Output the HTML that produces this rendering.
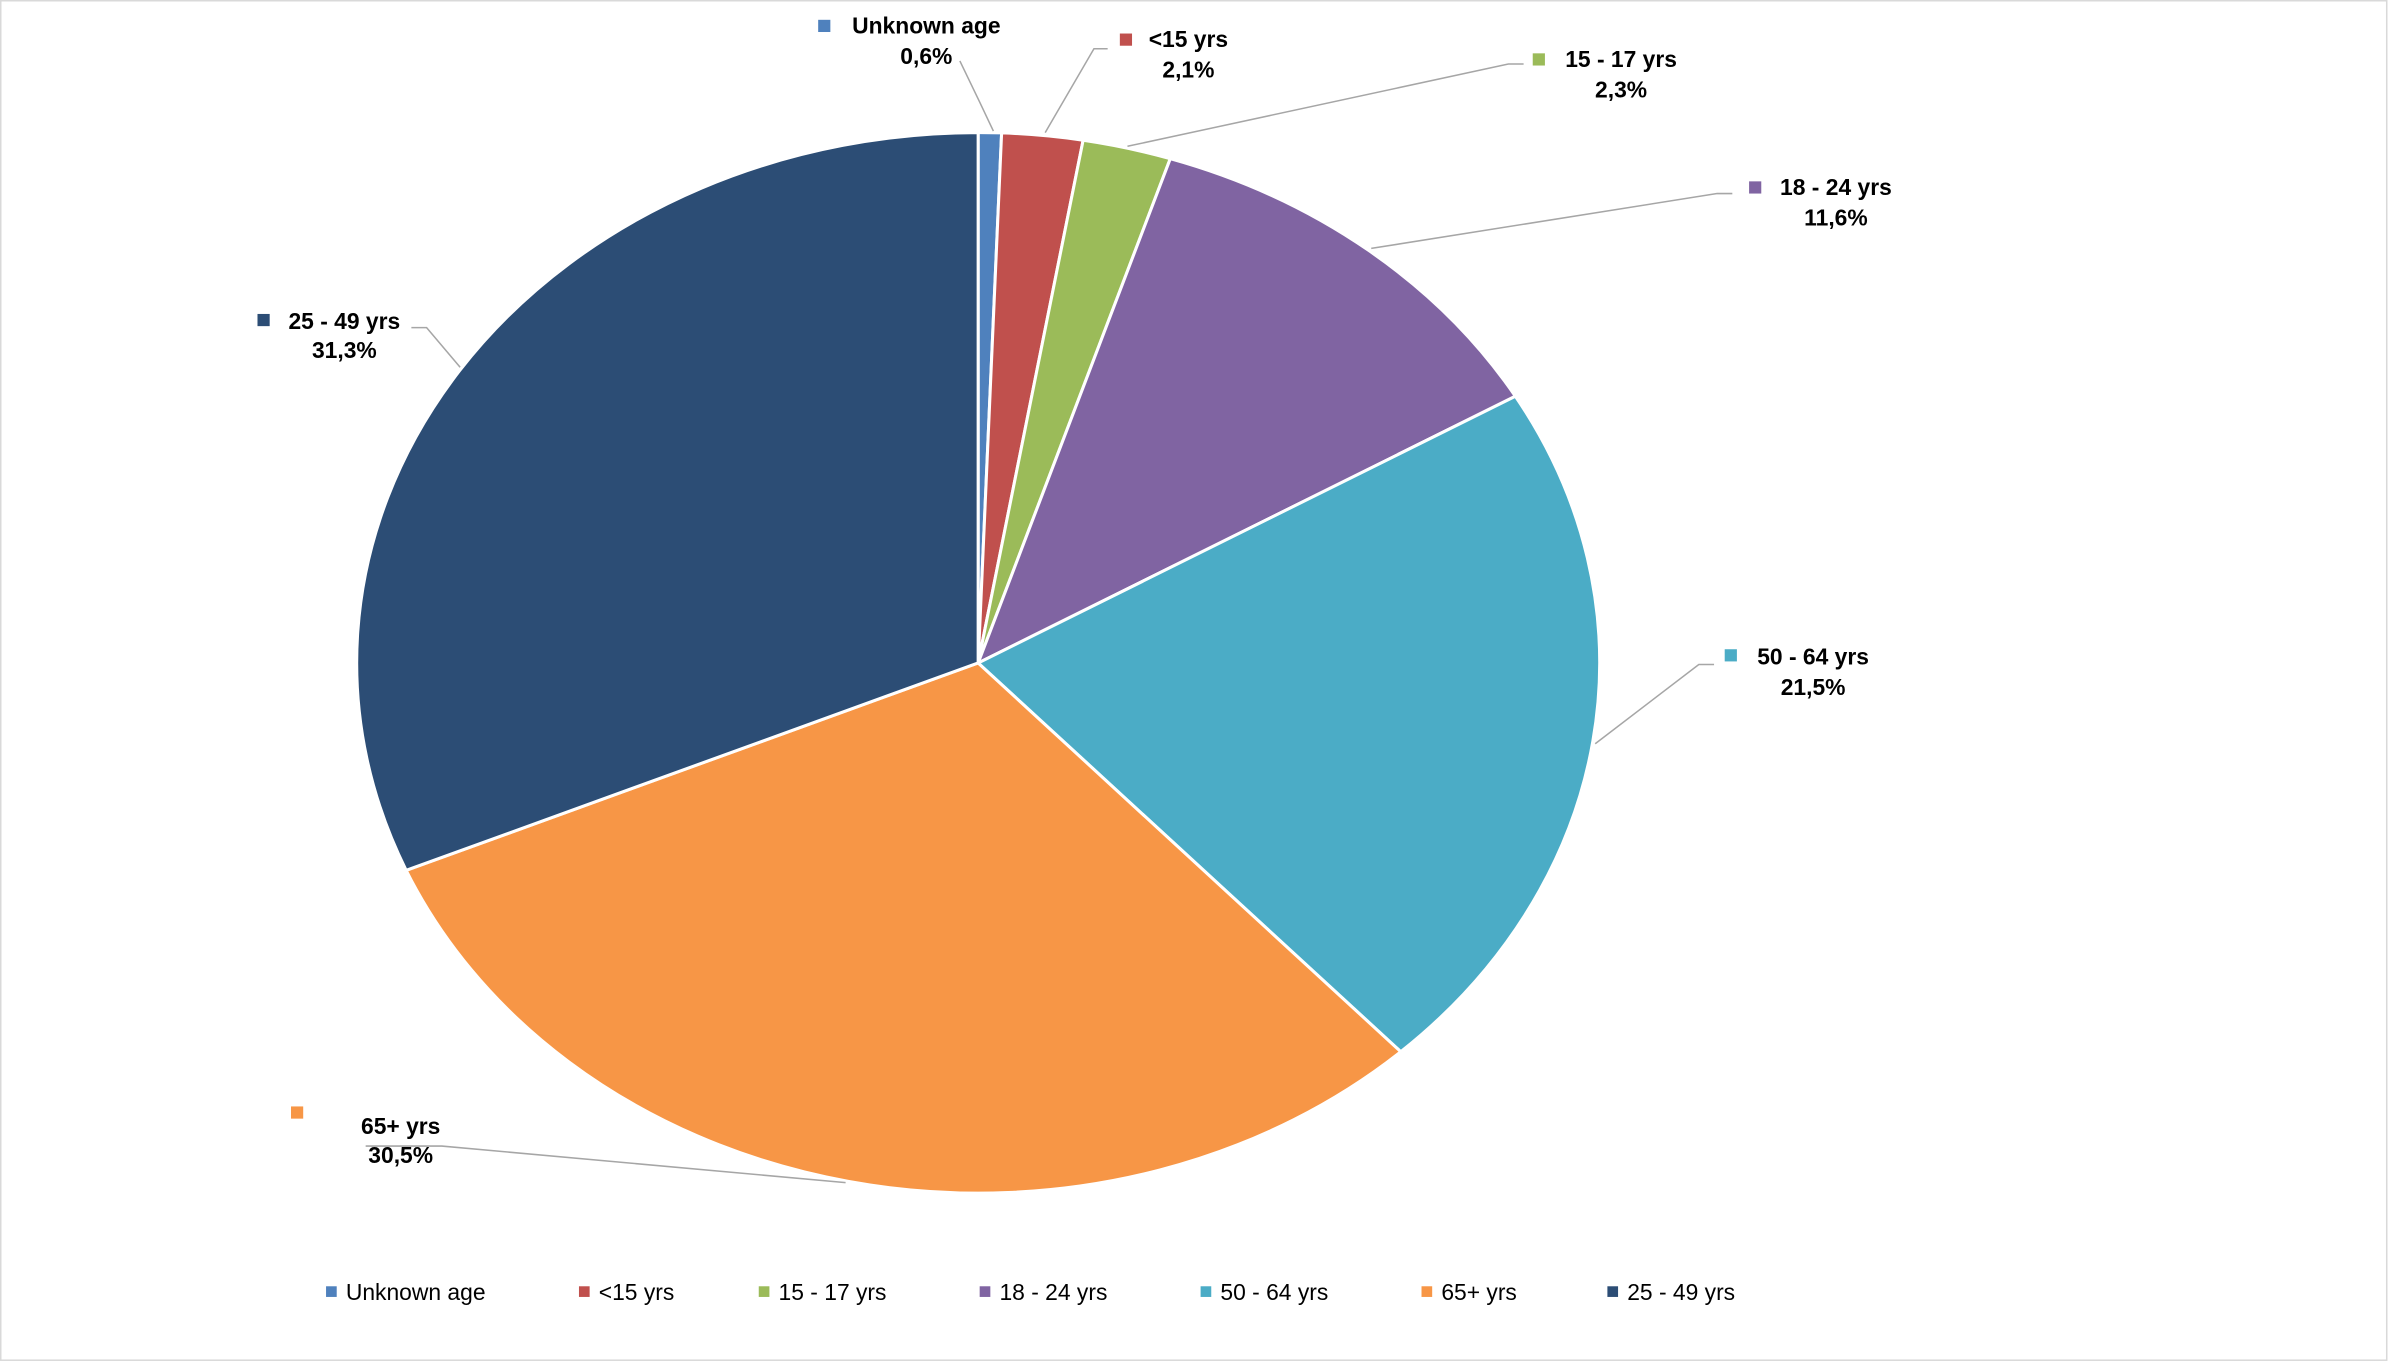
<!DOCTYPE html>
<html><head><meta charset="utf-8"><style>html,body{margin:0;padding:0;background:#fff}svg{display:block}</style></head>
<body>
<svg width="2389" height="1364" viewBox="0 0 1568 895" preserveAspectRatio="none" xmlns="http://www.w3.org/2000/svg" font-family="Liberation Sans, Arial, sans-serif">
<rect x="0.5" y="0.5" width="1566" height="892" fill="#fff" stroke="#D9D9D9" stroke-width="1"/>
<g stroke="#fff" stroke-width="2">
<path d="M642,435 L642,87 A408,348 0 0 1 657.4,87.2 Z" fill="#4F81BD"/>
<path d="M642,435 L657.4,87.2 A408,348 0 0 1 710.9,92 Z" fill="#C0504D"/>
<path d="M642,435 L710.9,92 A408,348 0 0 1 768.1,104.1 Z" fill="#9BBB59"/>
<path d="M642,435 L768.1,104.1 A408,348 0 0 1 994.6,260 Z" fill="#8064A2"/>
<path d="M642,435 L994.6,260 A408,348 0 0 1 919.4,690.1 Z" fill="#4BACC6"/>
<path d="M642,435 L919.4,690.1 A408,348 0 0 1 266.6,571.1 Z" fill="#F79646"/>
<path d="M642,435 L266.6,571.1 A408,348 0 0 1 642,87 Z" fill="#2C4D75"/>
</g>
<g stroke="#A6A6A6" stroke-width="1" fill="none">
<polyline points="652,86 643,67 630,40"/>
<polyline points="686,87 718,32 727,32"/>
<polyline points="740,96 990,42 1000,42"/>
<polyline points="900,163 1127,127 1137,127"/>
<polyline points="1047,488 1115,436 1125,436"/>
<polyline points="555,776 290,752 240,752"/>
<polyline points="302,241 280,215 270,215"/>
</g>
<g font-weight="bold" font-size="15" fill="#000" text-anchor="middle">
<rect x="537" y="13" width="8" height="8" fill="#4F81BD"/><text x="608" y="22">Unknown age</text><text x="608" y="42">0,6%</text>
<rect x="735" y="22" width="8" height="8" fill="#C0504D"/><text x="780" y="31">&lt;15 yrs</text><text x="780" y="51">2,1%</text>
<rect x="1006" y="35" width="8" height="8" fill="#9BBB59"/><text x="1064" y="44">15 - 17 yrs</text><text x="1064" y="64">2,3%</text>
<rect x="1148" y="119" width="8" height="8" fill="#8064A2"/><text x="1205" y="128">18 - 24 yrs</text><text x="1205" y="148">11,6%</text>
<rect x="1132" y="426" width="8" height="8" fill="#4BACC6"/><text x="1190" y="436">50 - 64 yrs</text><text x="1190" y="456">21,5%</text>
<rect x="191" y="726" width="8" height="8" fill="#F79646"/><text x="263" y="744">65+ yrs</text><text x="263" y="763">30,5%</text>
<rect x="169" y="206" width="8" height="8" fill="#2C4D75"/><text x="226" y="216">25 - 49 yrs</text><text x="226" y="235">31,3%</text>
</g>
<g font-size="15" fill="#000">
<rect x="214" y="844" width="7" height="7" fill="#4F81BD"/><text x="227" y="853">Unknown age</text>
<rect x="380" y="844" width="7" height="7" fill="#C0504D"/><text x="393" y="853">&lt;15 yrs</text>
<rect x="498" y="844" width="7" height="7" fill="#9BBB59"/><text x="511" y="853">15 - 17 yrs</text>
<rect x="643" y="844" width="7" height="7" fill="#8064A2"/><text x="656" y="853">18 - 24 yrs</text>
<rect x="788" y="844" width="7" height="7" fill="#4BACC6"/><text x="801" y="853">50 - 64 yrs</text>
<rect x="933" y="844" width="7" height="7" fill="#F79646"/><text x="946" y="853">65+ yrs</text>
<rect x="1055" y="844" width="7" height="7" fill="#2C4D75"/><text x="1068" y="853">25 - 49 yrs</text>
</g>
</svg>
</body></html>
